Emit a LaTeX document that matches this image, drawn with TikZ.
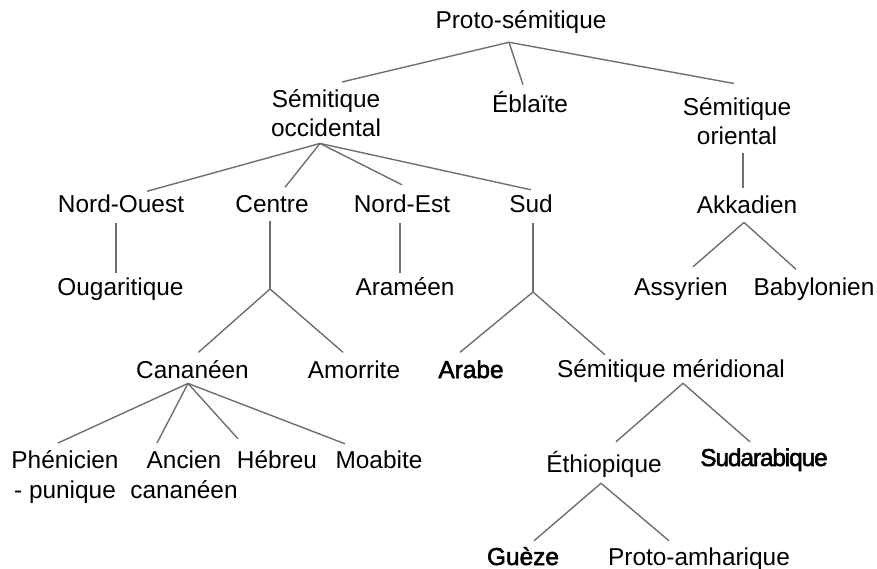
\documentclass[tikz,border=0pt]{standalone}
\usepackage{fontspec}
\setmainfont{Liberation Sans}
\newfontfamily\heavyfont[FakeBold=2.2]{Liberation Sans}
\newfontfamily\heavynarrowfont[FakeBold=2.2,LetterSpace=-4.5]{Liberation Sans}
\definecolor{TreeGrey}{HTML}{6F6F6F}

\begin{document}
\begin{tikzpicture}[x=1pt,y=-1pt,
    every node/.style={font=\fontsize{24.4}{29.3}\selectfont,align=center,anchor=base,
      text height=17.5pt,inner xsep=0pt,inner ysep=8pt},
    twoline/.style={text height=46.8pt},
    strong/.style={font=\fontsize{24.4}{29.3}\selectfont\heavyfont},
    branch/.style={TreeGrey,line width=1.4pt}]
    \useasboundingbox (0,0) rectangle (877,569);
    \node (proto) at (521,29) {Proto-sémitique};
    \node[twoline] (occ) at (326,137) {Sémitique\\occidental};
    \node (ebla) at (530,113) {Éblaïte};
    \node[twoline] (orie) at (737,145) {Sémitique\\oriental};
    \node (nwest) at (121,213) {Nord-Ouest};
    \node (centre) at (272,213) {Centre};
    \node (neast) at (402,213) {Nord-Est};
    \node (sud) at (531,213) {Sud};
    \node (akka) at (747,214) {Akkadien};
    \node (ouga) at (120.5,295) {Ougaritique};
    \node (aram) at (405,295) {Araméen};
    \node (assy) at (681,295) {Assyrien};
    \node (baby) at (814,295) {Babylonien};
    \node (cana) at (192.5,378) {Cananéen};
    \node (amor) at (354,378) {Amorrite};
    \node[strong] (arabe) at (471,378) {Arabe};
    \node (smer) at (671,377) {Sémitique méridional};
    \node[twoline] (phen) at (65,498) {Phénicien\\- punique};
    \node[twoline] (anci) at (184,498) {Ancien\\cananéen};
    \node (hebr) at (277,468) {Hébreu};
    \node (moab) at (379,468) {Moabite};
    \node (ethi) at (604,472) {Éthiopique};
    \node[strong,font=\fontsize{24.4}{29.3}\selectfont\heavynarrowfont] (sudar) at (764,466) {Sudarabique};
    \node[strong] (gueze) at (523,565) {Guèze};
    \node (amha) at (699,565) {Proto-amharique};

    \coordinate (proto-fork) at ([xshift=-12pt]proto.south);
    \coordinate (occ-fork) at ([xshift=-6pt,yshift=2pt]occ.south);
    \coordinate (akka-fork) at ([xshift=-3pt]akka.south);
    \coordinate (centre-fork) at (270,289);
    \coordinate (sud-fork) at (533,292);
    \coordinate (cana-fork) at ([xshift=-4.5pt,yshift=3pt]cana.south);
    \coordinate (smer-fork) at ([xshift=12pt,yshift=7pt]smer.south);
    \coordinate (ethi-fork) at ([xshift=-3pt,yshift=2pt]ethi.south);

    \draw[branch] (proto-fork)--([xshift=16pt]occ.north);
    \draw[branch] (proto-fork)--([xshift=-7pt,yshift=2.5pt]ebla.north);
    \draw[branch] (proto-fork)--([xshift=-3pt,yshift=6.5pt]orie.north);

    \draw[branch] (occ-fork)--([xshift=26pt,yshift=-4pt]nwest.north);
    \draw[branch] (occ-fork)--([xshift=13pt]centre.north);
    \draw[branch] (occ-fork)--([yshift=2.5pt]neast.north);
    \draw[branch] (occ-fork)--([yshift=-2.5pt]sud.north);

    \draw[branch] ([xshift=-5pt,yshift=-2pt]nwest.south)--([xshift=-4.5pt,yshift=-3.5pt]ouga.north);
    \draw[branch] ([xshift=-2pt,yshift=-2pt]neast.south)--([xshift=-5pt,yshift=-3.5pt]aram.north);
    \draw[branch] ([xshift=6pt]orie.south)--([xshift=-4pt]akka.north);

    \draw[branch] (akka-fork)--([xshift=12pt,yshift=2.5pt]assy.north);
    \draw[branch] (akka-fork)--([xshift=-18pt]baby.north);

    \draw[branch] ([xshift=-2pt]centre.south)--(centre-fork);
    \draw[branch] (centre-fork)--([xshift=6pt]cana.north);
    \draw[branch] (centre-fork)--([xshift=-11pt]amor.north);

    \draw[branch] ([xshift=2pt,yshift=-2pt]sud.south)--(sud-fork);
    \draw[branch] (sud-fork)--([xshift=-11pt]arabe.north);
    \draw[branch] (sud-fork)--([xshift=-66pt,yshift=-3.5pt]smer.north);

    \draw[branch] (cana-fork)--([xshift=-7pt]phen.north);
    \draw[branch] (cana-fork)--([xshift=-27pt]anci.north);
    \draw[branch] (cana-fork)--([xshift=-39pt,yshift=3.5pt]hebr.north);
    \draw[branch] (cana-fork)--([xshift=-34pt,yshift=-1.5pt]moab.north);

    \draw[branch] (smer-fork)--([xshift=12pt,yshift=4.5pt]ethi.north);
    \draw[branch] (smer-fork)--([xshift=-14pt,yshift=-1.5pt]sudar.north);

    \draw[branch] (ethi-fork)--([xshift=11pt,yshift=-1.5pt]gueze.north);
    \draw[branch] (ethi-fork)--([xshift=-30pt,yshift=-1.5pt]amha.north);
  \end{tikzpicture}
\end{document}
